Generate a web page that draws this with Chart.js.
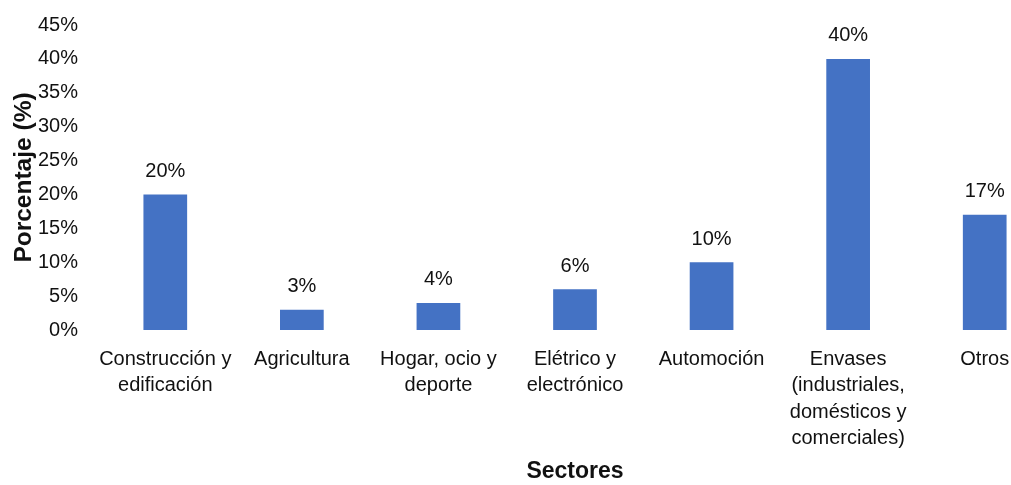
<!DOCTYPE html>
<html>
<head>
<meta charset="utf-8">
<script src="https://cdn.jsdelivr.net/npm/chart.js@4.4.1/dist/chart.umd.min.js"></script>
<style>
  html, body { margin: 0; padding: 0; background: #fff; overflow: hidden; }
  #wrap { width: 1053px; height: 485px; }
</style>
</head>
<body>
<div id="wrap"><canvas id="c" width="1053" height="485"></canvas></div>
<script>
// Sectores y porcentaje de uso
const categories = [
  ['Construcción y', 'edificación'],
  'Agricultura',
  ['Hogar, ocio y', 'deporte'],
  ['Elétrico y', 'electrónico'],
  'Automoción',
  ['Envases', '(industriales,', 'domésticos y', 'comerciales)'],
  'Otros'
];
const percentages = [20, 3, 4, 6, 10, 40, 17];
const yTicks = [0, 5, 10, 15, 20, 25, 30, 35, 40, 45];

const TEXT = '#111';
const FONT = "'Liberation Sans', Arial, sans-serif";

// Etiquetas de valor sobre cada barra
const valueLabels = {
  id: 'valueLabels',
  afterDatasetsDraw(chart) {
    const ctx = chart.ctx;
    const meta = chart.getDatasetMeta(0);
    ctx.save();
    ctx.font = '20px ' + FONT;
    ctx.fillStyle = TEXT;
    ctx.textAlign = 'center';
    ctx.textBaseline = 'middle';
    meta.data.forEach((bar, i) => {
      ctx.fillText(percentages[i] + '%', bar.x, bar.y - 23);
    });
    ctx.restore();
  }
};

new Chart(document.getElementById('c'), {
  type: 'bar',
  data: {
    labels: categories,
    datasets: [{
      data: percentages,
      backgroundColor: '#4472C4',
      borderWidth: 0,
      categoryPercentage: 1,
      barPercentage: 0.32
    }]
  },
  options: {
    responsive: false,
    animation: false,
    layout: { padding: { top: 25, right: 0, bottom: 0, left: 0 } },
    plugins: { legend: { display: false }, tooltip: { enabled: false } },
    scales: {
      x: {
        grid: { display: false, drawTicks: false },
        border: { display: false },
        ticks: {
          color: TEXT,
          font: { family: FONT, size: 20, lineHeight: 1.32 },
          padding: 16,
          maxRotation: 0,
          autoSkip: false
        },
        title: {
          display: true,
          text: 'Sectores',
          color: TEXT,
          font: { family: FONT, size: 23, weight: 'bold' },
          padding: { top: 0, bottom: 0 }
        },
        afterFit(scale) { scale.height = 155; }
      },
      y: {
        min: 0,
        max: 45,
        afterBuildTicks(scale) { scale.ticks = yTicks.map(v => ({ value: v })); },
        grid: { display: false, drawTicks: false },
        border: { display: false },
        ticks: {
          color: TEXT,
          font: { family: FONT, size: 20 },
          padding: 19,
          callback: v => v + '%'
        },
        title: {
          display: true,
          text: 'Porcentaje (%)',
          color: TEXT,
          font: { family: FONT, size: 24.5, weight: 'bold' },
          padding: { top: 10, bottom: 0 }
        },
        afterFit(scale) {
          scale.width = 97;
          scale.paddingTop = 0;
          scale.paddingBottom = 0;
        }
      }
    }
  },
  plugins: [valueLabels]
});
</script>
</body>
</html>
